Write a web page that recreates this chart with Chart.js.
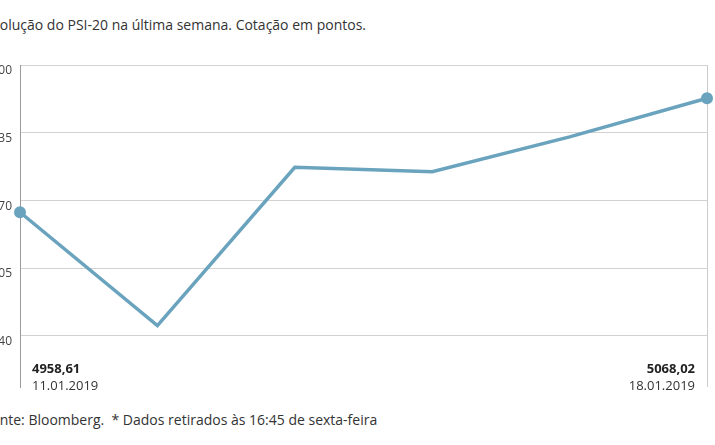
<!doctype html>
<html>

<head>
  <meta charset="utf-8">
  <title>PSI-20 última semana</title>
  <script src="https://cdn.jsdelivr.net/npm/chart.js@4.4.1/dist/chart.umd.min.js"></script>
  <style>
    body {
      margin: 0;
      width: 715px;
      height: 445px;
      overflow: hidden;
      background: #fff;
      position: relative;
      font-family: "Open Sans", sans-serif;
      color: #333;
    }
    #title {
      position: absolute;
      top: 16px;
      font-size: 14px;
      line-height: 18px;
      white-space: nowrap;
    }
    #footer {
      position: absolute;
      top: 411px;
      font-size: 14px;
      line-height: 18px;
      white-space: nowrap;
    }
    .chart {
      position: absolute;
      left: -40px;
      top: 50px;
      width: 755px;
      height: 350px;
    }
  </style>
</head>

<body>
  <div id="title"><span id="titleCut">Ev</span>olução do PSI-20 na última semana. Cotação em pontos.</div>
  <div class="chart">
    <canvas id="myChart"></canvas>
  </div>
  <div id="footer"><span id="footerCut">Fo</span>nte: Bloomberg.&nbsp; * Dados retirados às 16:45 de sexta-feira</div>

  <script>
    var dates = ['11.01.2019', '14.01.2019', '15.01.2019', '16.01.2019', '17.01.2019', '18.01.2019'];
    var psi20 = [4958.61, 4849.7, 5001.8, 4997.6, 5031.0, 5068.02];
    var yTicks = [4840, 4905, 4970, 5035, 5100];
    var yMin = 4790.8;
    var yMax = 5100;

    var lineColor = '#6aa3bd';

    // the reference is cropped on the left, so shift the texts by their first letters
    document.getElementById('title').style.left = -document.getElementById('titleCut').offsetWidth + 'px';
    document.getElementById('footer').style.left = -document.getElementById('footerCut').offsetWidth + 'px';

    function formatValue(v) {
      return v.toFixed(2).replace('.', ',');
    }

    var endLabels = {
      id: 'endLabels',
      afterDatasetsDraw: function(chart) {
        var ctx = chart.ctx;
        var x = chart.scales.x;
        var bottom = chart.chartArea.bottom;
        var last = psi20.length - 1;
        ctx.save();
        ctx.textBaseline = 'alphabetic';
        ctx.fillStyle = '#222';
        ctx.font = 'bold 13px "Open Sans"';
        ctx.textAlign = 'left';
        ctx.fillText(formatValue(psi20[0]), x.getPixelForValue(0) + 12, bottom - 14);
        ctx.textAlign = 'right';
        ctx.fillText(formatValue(psi20[last]), x.getPixelForValue(last) - 12, bottom - 14);
        ctx.fillStyle = '#333';
        ctx.font = '13px "Open Sans"';
        ctx.textAlign = 'left';
        ctx.fillText(dates[0], x.getPixelForValue(0) + 12, bottom + 3);
        ctx.textAlign = 'right';
        ctx.fillText(dates[last], x.getPixelForValue(last) - 12, bottom + 3);
        ctx.restore();
      }
    };

    var config = {
      type: 'line',
      data: {
        labels: dates,
        datasets: [{
          data: psi20,
          borderColor: lineColor,
          backgroundColor: lineColor,
          borderWidth: 3.5,
          tension: 0,
          fill: false,
          clip: false,
          pointRadius: function(ctx) {
            return (ctx.dataIndex === 0 || ctx.dataIndex === psi20.length - 1) ? 6 : 0;
          },
          pointBorderWidth: 0,
          pointHoverRadius: 0
        }]
      },
      options: {
        responsive: true,
        maintainAspectRatio: false,
        animation: false,
        layout: {
          padding: { top: 15, bottom: 13, left: 0, right: 8 }
        },
        scales: {
          x: {
            offset: false,
            border: { display: false },
            grid: {
              drawTicks: false,
              color: function(ctx) {
                return ctx.index === psi20.length - 1 ? '#cccccc' : 'rgba(0,0,0,0)';
              }
            },
            ticks: { display: false }
          },
          y: {
            min: yMin,
            max: yMax,
            afterBuildTicks: function(scale) {
              scale.ticks = yTicks.map(function(v) { return { value: v }; });
            },
            afterFit: function(scale) {
              scale.width = 60;
              // let the layout padding alone decide the plot top and bottom
              scale.paddingTop = 0;
              scale.paddingBottom = 0;
            },
            border: { display: true, color: '#9a9a9a', width: 1 },
            grid: {
              drawTicks: false,
              color: '#d2d2d2'
            },
            ticks: {
              padding: 8,
              labelOffset: 6,
              color: '#444',
              font: { family: 'Open Sans', size: 12 }
            }
          }
        },
        plugins: {
          legend: { display: false },
          tooltip: { enabled: false }
        }
      },
      plugins: [endLabels]
    };

    window.onload = function() {
      var ctx = document.getElementById('myChart').getContext('2d');
      window.myChart = new Chart(ctx, config);
    };
  </script>
</body>

</html>
